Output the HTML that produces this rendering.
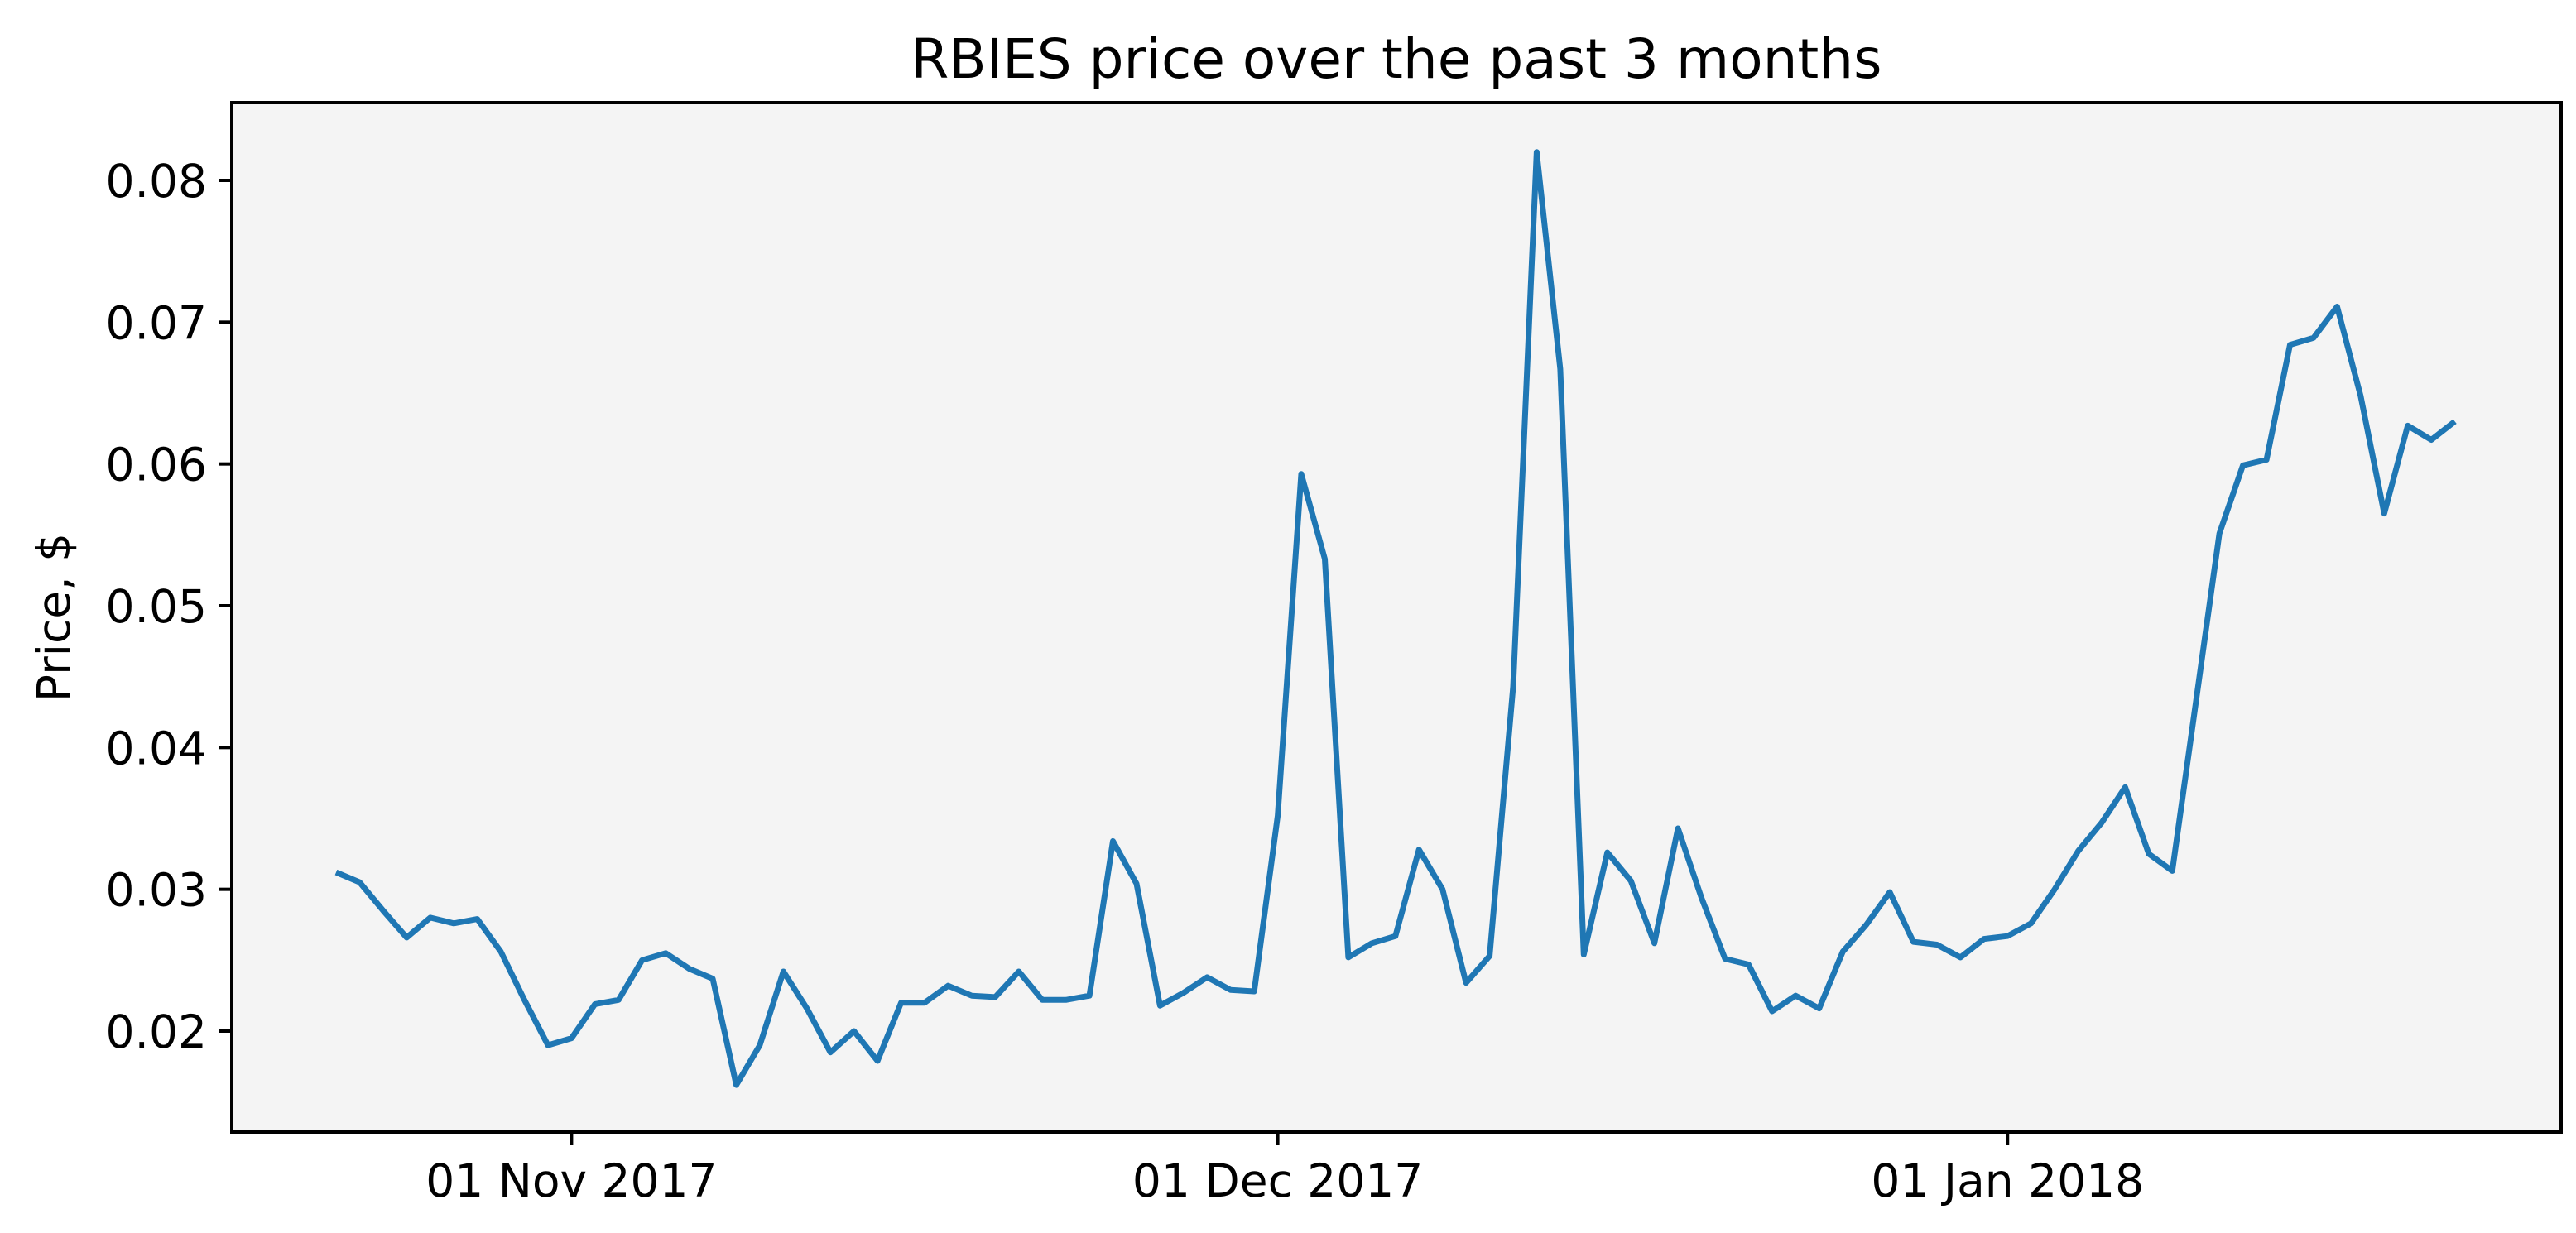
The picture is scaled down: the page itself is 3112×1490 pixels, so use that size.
<!DOCTYPE html>
<html><head><meta charset="utf-8"><style>
html,body{margin:0;padding:0;background:#fff}
svg{display:block;font-family:"DejaVu Sans","Liberation Sans",sans-serif}
</style></head><body>
<svg id="chart" width="3112" height="1490" viewBox="0 0 3112 1490" xmlns="http://www.w3.org/2000/svg">
<rect x="0" y="0" width="3112" height="1490" fill="#fff"/>
<rect x="280" y="124" width="2814" height="1244" fill="#f4f4f4"/>
<text x="1687" y="94" font-size="66" text-anchor="middle" fill="#000">RBIES price over the past 3 months</text>
<text transform="translate(84,746) rotate(-90)" font-size="55" text-anchor="middle" fill="#000">Price, $</text>
<g id="axes"></g>
<path id="line" fill="none" stroke="#1f77b4" stroke-width="7" stroke-linejoin="round"/>
<rect x="280" y="124" width="2814" height="1244" fill="none" stroke="#000" stroke-width="4"/>
</svg>
<script>
const prices=[0.0312,0.0305,0.0285,0.0266,0.0280,0.0276,0.0279,0.0256,0.0222,0.0190,0.0195,0.0219,0.0222,0.0250,0.0255,0.0244,0.0237,0.0162,0.0190,0.0242,0.0216,0.0185,0.0200,0.0179,0.0220,0.0220,0.0232,0.0225,0.0224,0.0242,0.0222,0.0222,0.0225,0.0334,0.0304,0.0218,0.0227,0.0238,0.0229,0.0228,0.0352,0.0593,0.0533,0.0252,0.0262,0.0267,0.0328,0.0300,0.0234,0.0253,0.0443,0.0820,0.0667,0.0254,0.0326,0.0306,0.0262,0.0343,0.0294,0.0251,0.0247,0.0214,0.0225,0.0216,0.0256,0.0275,0.0298,0.0263,0.0261,0.0252,0.0265,0.0267,0.0276,0.0300,0.0327,0.0347,0.0372,0.0325,0.0313,0.0432,0.0551,0.0599,0.0603,0.0684,0.0689,0.0711,0.0648,0.0565,0.0627,0.0617,0.0630];
const yTicks=[0.02,0.03,0.04,0.05,0.06,0.07,0.08];
const yTickLabels=["0.02","0.03","0.04","0.05","0.06","0.07","0.08"];
const xTickDays=[10,40,71];
const xTickLabels=["01 Nov 2017","01 Dec 2017","01 Jan 2018"];
const X=d=>406+28.44*d;
const Y=v=>1246-(v-0.02)*(1028/0.06);
const ns="http://www.w3.org/2000/svg";
const axes=document.getElementById('axes');
function mk(tag,attrs){const e=document.createElementNS(ns,tag);for(const k in attrs)e.setAttribute(k,attrs[k]);axes.appendChild(e);return e;}
yTicks.forEach((v,i)=>{
 const t=mk('line',{x1:264,x2:280,y1:Y(v),y2:Y(v),stroke:'#000','stroke-width':4});
 
 
 const l=mk('text',{x:250,y:Y(v)+20,'font-size':55,'text-anchor':'end',fill:'#000'});
 
 
 l.textContent=yTickLabels[i];
});
xTickDays.forEach((d,i)=>{
 const t=mk('line',{x1:X(d),x2:X(d),y1:1368,y2:1384,stroke:'#000','stroke-width':4});
 
 
 const l=mk('text',{x:X(d),y:1446,'font-size':55,'text-anchor':'middle',fill:'#000'});
 
 
 l.textContent=xTickLabels[i];
});
document.getElementById('line').setAttribute('d',prices.map((v,i)=>(i?'L':'M')+X(i).toFixed(1)+','+Y(v).toFixed(1)).join(''));
</script>
</body></html>
